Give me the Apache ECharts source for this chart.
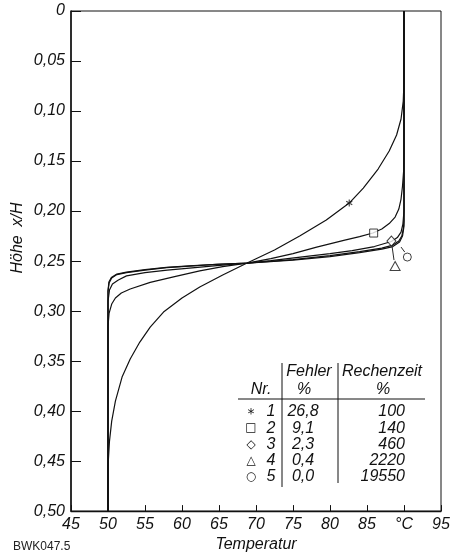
<!DOCTYPE html>
<html>
<head>
<meta charset="utf-8">
<script src="https://cdn.jsdelivr.net/npm/echarts@6/dist/echarts.min.js"></script>
<style>html,body{margin:0;padding:0;background:#fff;}#c{width:458px;height:558px;}</style>
</head>
<body>
<div id="c"></div>
<script>
// ---- data ----
const xTickLabels = ['45','50','55','60','65','70','75','80','85','°C','95'];
const yTickLabels = ['0','0,05','0,10','0,15','0,20','0,25','0,30','0,35','0,40','0,45','0,50'];

const curve1 = [[50,0.5],[50,0.455],[50.2,0.43],[50.5,0.41],[51,0.39],[51.9,0.366],[53,0.348],[54.3,0.331],[55.7,0.316],[57.5,0.301],[60,0.287],[62.4,0.276],[65.5,0.264],[68.8,0.252],[72.5,0.239],[75.9,0.225],[79.5,0.209],[82.6,0.192],[84.5,0.177],[86.5,0.158],[88,0.14],[89,0.124],[89.6,0.108],[89.9,0.09],[90,0.07],[90,0]];
const curve2 = [[50,0.5],[50,0.315],[50.15,0.302],[50.5,0.293],[51,0.287],[51.8,0.282],[53,0.278],[55.7,0.2713],[59,0.2655],[62.4,0.2598],[65.5,0.2555],[68.8,0.252],[72,0.2475],[75,0.2425],[78.2,0.236],[82,0.229],[84,0.2255],[85.8,0.222],[87,0.218],[88,0.2125],[88.8,0.206],[89.3,0.198],[89.6,0.188],[89.8,0.175],[89.95,0.16],[90,0.14],[90,0]];
const curve3 = [[50,0.5],[50,0.29],[50.2,0.279],[50.6,0.273],[51.4,0.269],[52.5,0.2648],[55,0.2615],[58,0.259],[61,0.257],[64.7,0.2545],[68.8,0.252],[72,0.2495],[76,0.246],[80,0.2425],[83,0.2395],[86,0.2355],[88.3,0.2305],[89.1,0.2265],[89.6,0.221],[89.85,0.213],[90,0.2],[90,0]];
const curve4 = [[50,0.5],[50,0.28],[50.15,0.272],[50.5,0.267],[51.2,0.2635],[52.5,0.2615],[55,0.259],[57.9,0.2566],[61,0.255],[64.7,0.2533],[68.8,0.252],[75,0.2485],[80,0.2445],[84,0.2405],[87,0.237],[88.5,0.234],[89.3,0.23],[89.7,0.225],[89.9,0.218],[90,0.21],[90,0]];
const curve5 = [[50,0.5],[50,0.28],[50.12,0.271],[50.45,0.2665],[51.2,0.263],[52.5,0.261],[55,0.2585],[57.9,0.2563],[61,0.2548],[64.7,0.2532],[68.8,0.252],[75,0.249],[80,0.2455],[84,0.2415],[87,0.238],[88.5,0.2355],[89.4,0.231],[89.8,0.225],[90,0.215],[90,0]];

const markerPoints = [[82.6,0.192],[85.9,0.222],[88.3,0.230],[88.8,0.255],[90.45,0.246]];
const leader4 = [[88.4,0.236],[88.65,0.249]];
const leader5 = [[89.6,0.236],[90.1,0.241]];

const tableNr = ['1','2','3','4','5'];
const tableSymbols = ['*','□','◇','△','○'];
const tableFehler = ['26,8','9,1','2,3','0,4','0,0'];
const tableRechenzeit = ['100','140','460','2220','19550'];

// ---- chart ----
const FONT = '"Liberation Sans", Arial, sans-serif';
const INK = '#111';
const starPath = 'path://M-0.8,-5L0.8,-5L0.8,5L-0.8,5Z M3.93,3.19L4.73,1.81L-3.93,-3.19L-4.73,-1.81Z M4.73,-1.81L3.93,-3.19L-4.73,1.81L-3.93,3.19Z';
const markerSymbols = [starPath,'rect','diamond','triangle','circle'];
const markerSizes = [7,8,[9,10],[10,9],8];

const chart = echarts.init(document.getElementById('c'), null, {renderer:'canvas'});

const lineSeries = [curve1,curve2,curve3,curve4,curve5].map(d => ({
  type:'line', data:d, showSymbol:false, symbol:'none', smooth:false,
  lineStyle:{color:INK, width:1.2}, silent:true, z:2
}));
const leaderSeries = [leader4, leader5].map(d => ({
  type:'line', data:d, showSymbol:false, symbol:'none',
  lineStyle:{color:INK, width:0.9}, silent:true, z:2
}));
const markerSeries = markerPoints.map((p,i) => ({
  type:'scatter', data:[p], symbol:markerSymbols[i], symbolSize:markerSizes[i], symbolKeepAspect:true,
  itemStyle: i===0 ? {color:INK} : {color:'#fff', borderColor:INK, borderWidth:1},
  silent:true, z:3
}));

// table graphics
const g = [];
const tfont = 'italic 16px ' + FONT;
function txt(x,y,s,align,font){
  g.push({type:'text', x:x, y:y, silent:true, style:{text:s, font:font||tfont, fill:INK, align:align||'center', verticalAlign:'middle'}});
}
txt(309,372,'Fehler');
txt(382,372,'Rechenzeit');
txt(261,390,'Nr.');
txt(304,390,'%');
txt(383,390,'%');
g.push({type:'line', silent:true, shape:{x1:238,y1:399,x2:425,y2:399}, style:{stroke:INK, lineWidth:1}});
g.push({type:'line', silent:true, shape:{x1:282,y1:363,x2:282,y2:487}, style:{stroke:INK, lineWidth:1}});
g.push({type:'line', silent:true, shape:{x1:338,y1:363,x2:338,y2:483}, style:{stroke:INK, lineWidth:1}});
for (let i=0;i<tableNr.length;i++){
  const y = 412 + 16.2*i;
  txt(251, y + (i===0?2:0), tableSymbols[i], 'center', (i===0?'14px ':'12px ') + '"DejaVu Sans", sans-serif');
  txt(271, y, tableNr[i]);
  txt(303, y, tableFehler[i]);
  txt(405, y, tableRechenzeit[i], 'right');
}
// y axis title
g.push({type:'text', x:18, y:238, rotation:Math.PI/2, silent:true,
  style:{text:'Höhe  x/H', font:tfont, fill:INK, align:'center', verticalAlign:'middle'}});
// catalogue note
g.push({type:'text', x:13, y:547, silent:true,
  style:{text:'BWK047.5', font:'12px ' + FONT, fill:'#222', align:'left', verticalAlign:'middle'}});

chart.setOption({
  animation:false,
  backgroundColor:'#fff',
  grid:{left:71, right:17, top:11, bottom:39, show:true, borderColor:INK, borderWidth:1, backgroundColor:'transparent'},
  xAxis:{
    type:'value', min:45, max:95, interval:5,
    name:'Temperatur', nameLocation:'middle', nameGap:23,
    nameTextStyle:{fontFamily:FONT, fontStyle:'italic', fontSize:16, color:INK},
    axisLine:{show:true, onZero:false, lineStyle:{color:INK, width:1.3}},
    axisTick:{show:true, inside:true, length:6, lineStyle:{color:INK, width:1}},
    axisLabel:{margin:5, fontFamily:FONT, fontStyle:'italic', fontSize:16, color:INK,
      formatter: v => xTickLabels[Math.round((v-45)/5)]},
    splitLine:{show:false}
  },
  yAxis:{
    type:'value', min:0, max:0.5, interval:0.05, inverse:true,
    axisLine:{show:true, onZero:false, lineStyle:{color:INK, width:1.5}},
    axisTick:{show:true, inside:true, length:10, lineStyle:{color:INK, width:1}},
    axisLabel:{margin:6, fontFamily:FONT, fontStyle:'italic', fontSize:16, color:INK,
      formatter: v => yTickLabels[Math.round(v/0.05)]},
    splitLine:{show:false}
  },
  series:[...lineSeries, ...leaderSeries, ...markerSeries],
  graphic:g
});
</script>
</body>
</html>
